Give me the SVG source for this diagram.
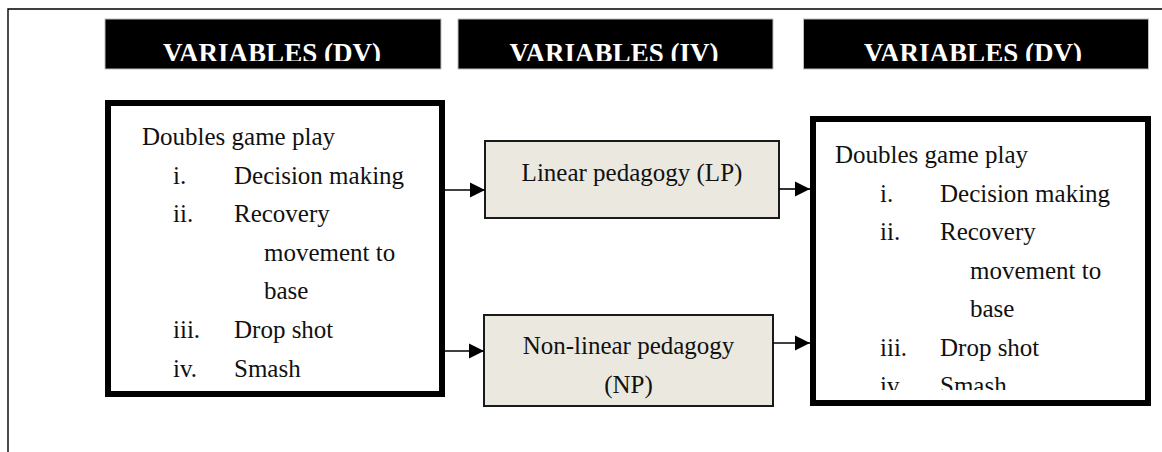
<svg xmlns="http://www.w3.org/2000/svg" width="1162" height="452" viewBox="0 0 1162 452">
  <style>
    .frame { stroke: #000; stroke-width: 1.4; fill: none; }
    .hdr { fill: #000; stroke: #bdbdbd; stroke-width: 1; }
    .hdr-t { font-family: "Liberation Serif", "Times New Roman", serif; font-weight: bold; font-size: 27px; fill: #fff; text-anchor: middle; }
    .var { fill: #fff; stroke: #000; stroke-width: 6; }
    .ped { fill: #ebe9df; stroke: #1a1a1a; stroke-width: 2; }
    .t { font-family: "Liberation Serif", "Times New Roman", serif; font-size: 25px; fill: #111; }
    .tc { text-anchor: middle; }
    .conn { stroke: #000; stroke-width: 1.6; fill: none; marker-end: url(#arrow); }
  </style>
  <defs>
    <marker id="arrow" markerUnits="userSpaceOnUse" markerWidth="16" markerHeight="16" viewBox="0 0 16 16" refX="15" refY="8" orient="auto">
      <polygon points="0,0.5 15,8 0,15.5" fill="#000"/>
    </marker>
    <!-- header captions are cut off along their baseline -->
    <clipPath id="clipHdr">
      <rect x="0" y="0" width="1162" height="61"/>
    </clipPath>
    <!-- last list line is cut off by the box's inner edge -->
    <clipPath id="clipOut">
      <rect x="816" y="119" width="328" height="271"/>
    </clipPath>
  </defs>

  <rect width="1162" height="452" fill="#fff"/>

  <!-- page frame -->
  <path class="frame" d="M8,452 V9 H1162"/>

  <!-- column headers -->
  <g id="header-dv-left">
    <rect class="hdr" x="105" y="19" width="336" height="50"/>
    <text class="hdr-t" x="272" y="62" clip-path="url(#clipHdr)">VARIABLES (DV)</text>
  </g>
  <g id="header-iv">
    <rect class="hdr" x="458" y="19" width="315" height="50"/>
    <text class="hdr-t" x="614" y="62" clip-path="url(#clipHdr)">VARIABLES (IV)</text>
  </g>
  <g id="header-dv-right">
    <rect class="hdr" x="803.5" y="19" width="345" height="50"/>
    <text class="hdr-t" x="973" y="62" clip-path="url(#clipHdr)">VARIABLES (DV)</text>
  </g>

  <!-- dependent variables, before -->
  <g id="dv-pre">
    <rect class="var" x="108" y="103" width="334" height="291"/>
    <text class="t" x="142" y="145">Doubles game play</text>
    <text class="t" x="173" y="183.5">i.</text>
    <text class="t" x="234" y="183.5">Decision making</text>
    <text class="t" x="173" y="222">ii.</text>
    <text class="t" x="234" y="222">Recovery</text>
    <text class="t" x="264" y="260.5">movement to</text>
    <text class="t" x="264" y="299">base</text>
    <text class="t" x="173" y="338">iii.</text>
    <text class="t" x="234" y="338">Drop shot</text>
    <text class="t" x="173" y="377">iv.</text>
    <text class="t" x="234" y="377">Smash</text>
  </g>

  <!-- independent variables -->
  <g id="lp">
    <rect class="ped" x="485" y="141" width="294" height="77"/>
    <text class="t tc" x="632" y="181">Linear pedagogy (LP)</text>
  </g>
  <g id="np">
    <rect class="ped" x="484" y="315" width="289" height="91"/>
    <text class="t tc" x="628.5" y="354">Non-linear pedagogy</text>
    <text class="t tc" x="628.5" y="393">(NP)</text>
  </g>

  <!-- dependent variables, after -->
  <g id="dv-post">
    <rect class="var" x="813" y="119" width="335" height="284"/>
    <g clip-path="url(#clipOut)">
      <text class="t" x="835" y="163">Doubles game play</text>
      <text class="t" x="880" y="201.5">i.</text>
      <text class="t" x="940" y="201.5">Decision making</text>
      <text class="t" x="880" y="240">ii.</text>
      <text class="t" x="940" y="240">Recovery</text>
      <text class="t" x="970" y="278.5">movement to</text>
      <text class="t" x="970" y="317">base</text>
      <text class="t" x="880" y="355.5">iii.</text>
      <text class="t" x="940" y="355.5">Drop shot</text>
      <text class="t" x="880" y="394">iv.</text>
      <text class="t" x="940" y="394">Smash</text>
    </g>
  </g>

  <!-- connectors -->
  <g id="connectors">
    <line class="conn" x1="445" y1="190" x2="485" y2="190"/>
    <line class="conn" x1="445" y1="351" x2="484" y2="351"/>
    <line class="conn" x1="779" y1="189" x2="810" y2="189"/>
    <line class="conn" x1="773" y1="343" x2="810" y2="343"/>
  </g>
</svg>
